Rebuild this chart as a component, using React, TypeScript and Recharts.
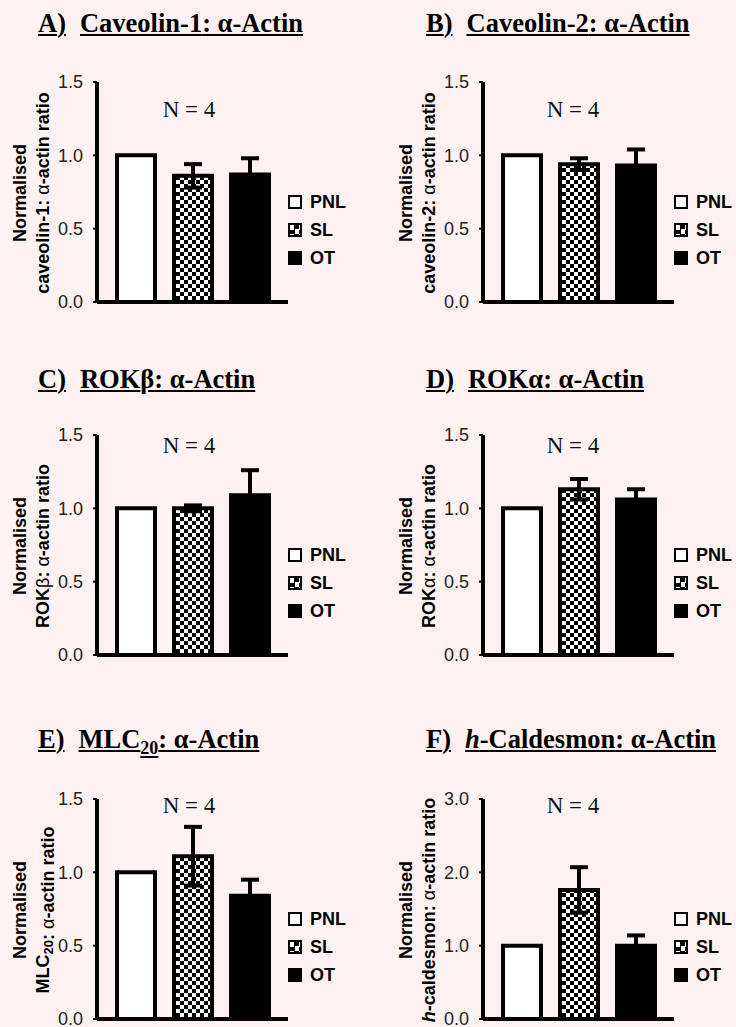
import React from 'react';
import { BarChart, Bar, XAxis, YAxis, ErrorBar, Legend } from 'recharts';

const BG = '#fdf1f1';
const SANS = '"Liberation Sans", Arial, Helvetica, sans-serif';
const SERIF = '"Liberation Serif", "Times New Roman", Times, serif';

// groups shown in every panel
const SERIES = ['PNL', 'SL', 'OT'];
const PANEL_LETTERS = ['A', 'B', 'C', 'D', 'E', 'F'];

// normalised protein : alpha-actin ratios, mean and SEM (N = 4)
const PNL_MEAN = [1, 1, 1, 1, 1, 1];
const SL_MEAN = [0.86, 0.94, 1.0, 1.13, 1.11, 1.76];
const SL_SEM = [0.08, 0.04, 0.02, 0.07, 0.2, 0.31];
const OT_MEAN = [0.87, 0.93, 1.09, 1.06, 0.84, 1.0];
const OT_SEM = [0.11, 0.11, 0.17, 0.07, 0.11, 0.14];

const Y_TICKS = [
  [0, 0.5, 1, 1.5],
  [0, 0.5, 1, 1.5],
  [0, 0.5, 1, 1.5],
  [0, 0.5, 1, 1.5],
  [0, 0.5, 1, 1.5],
  [0, 1, 2, 3],
];
const N_LABEL = 'N = 4';

type Seg = { t: string; sub?: boolean; it?: boolean; greek?: boolean };

const TITLE_NAMES: Seg[][] = [
  [{ t: 'Caveolin-1' }],
  [{ t: 'Caveolin-2' }],
  [{ t: 'ROK' }, { t: 'β', greek: true }],
  [{ t: 'ROK' }, { t: 'α', greek: true }],
  [{ t: 'MLC' }, { t: '20', sub: true }],
  [{ t: 'h', it: true }, { t: '-Caldesmon' }],
];

const AXIS_NAMES: Seg[][] = [
  [{ t: 'caveolin-1' }],
  [{ t: 'caveolin-2' }],
  [{ t: 'ROK' }, { t: 'β', greek: true }],
  [{ t: 'ROK' }, { t: 'α', greek: true }],
  [{ t: 'MLC' }, { t: '20', sub: true }],
  [{ t: 'h', it: true }, { t: '-caldesmon' }],
];

const CHART_LEFT = [0, 386];
const CHART_TOP = [0, 353, 717];
const TITLE_LEFT = [38, 426];
const TITLE_TOP = [10, 366, 726];
const N_CENTER = [189, 573];
const N_TOP = [98, 434, 794];

const checker = 'repeating-conic-gradient(#000 0 25%, #fff 0 50%) 0 0 / 9px 9px';
const LEGEND_FILL: Record<string, string> = { PNL: '#fff', SL: checker, OT: '#000' };

function LegendBox() {
  return (
    <div style={{ fontFamily: SANS, fontWeight: 700, fontSize: 18, color: '#000' }}>
      {SERIES.map((s) => (
        <div key={s} style={{ display: 'flex', alignItems: 'center', height: 28 }}>
          <div
            style={{
              width: 14,
              height: 14,
              boxSizing: 'border-box',
              border: '2px solid #000',
              background: LEGEND_FILL[s],
              marginRight: 8,
            }}
          />
          <span style={{ lineHeight: '18px' }}>{s}</span>
        </div>
      ))}
    </div>
  );
}

function Title({ i }: { i: number }) {
  const col = i % 2;
  const row = Math.floor(i / 2);
  const ul: React.CSSProperties = {
    textDecoration: 'underline',
    textDecorationThickness: '2px',
    textUnderlineOffset: '2px',
  };
  return (
    <div
      style={{
        position: 'absolute',
        left: TITLE_LEFT[col],
        top: TITLE_TOP[row],
        fontFamily: SERIF,
        fontWeight: 700,
        fontSize: 26.5,
        lineHeight: '26.5px',
        whiteSpace: 'nowrap',
        color: '#000',
      }}
    >
      <span style={ul}>{PANEL_LETTERS[i]})</span>
      <span style={{ marginLeft: 14 }}>
        {TITLE_NAMES[i].map((s, k) => (
          <span
            key={k}
            style={{
              ...ul,
              fontStyle: s.it ? 'italic' : 'normal',
              fontSize: s.sub ? 18 : 26.5,
              verticalAlign: s.sub ? '-6px' : 'baseline',
            }}
          >
            {s.t}
          </span>
        ))}
        <span style={ul}>: α-Actin</span>
      </span>
    </div>
  );
}

function segTspans(segs: Seg[]) {
  const out: React.ReactNode[] = [];
  segs.forEach((s, k) => {
    if (s.sub) {
      out.push(
        <tspan key={k} fontSize={13} dy={5}>
          {s.t}
        </tspan>
      );
      out.push(
        <tspan key={k + 'r'} dy={-5}>
          {''}
        </tspan>
      );
    } else {
      out.push(
        <tspan
          key={k}
          fontStyle={s.it ? 'italic' : 'normal'}
          fontWeight={s.greek ? 400 : 700}
        >
          {s.t}
        </tspan>
      );
    }
  });
  return out;
}

function makeYLabel(i: number) {
  return (props: any) => {
    const vb = props && props.viewBox ? props.viewBox : {};
    const cy = (vb.y ?? 82) + (vb.height ?? 220) / 2 + 1;
    const x1 = 20;
    const x2 = 43;
    const common = {
      fontFamily: SANS,
      fontSize: 18,
      fontWeight: 700,
      fill: '#000',
      textAnchor: 'middle' as const,
      dominantBaseline: 'central' as const,
    };
    return (
      <g>
        <text x={x1} y={cy} transform={`rotate(-90 ${x1} ${cy})`} {...common}>
          Normalised
        </text>
        <text x={x2} y={cy} transform={`rotate(-90 ${x2} ${cy})`} {...common}>
          {segTspans(AXIS_NAMES[i])}
          <tspan>: </tspan>
          <tspan fontWeight={400}>α</tspan>
          <tspan>-actin ratio</tspan>
        </text>
      </g>
    );
  };
}

function Panel({ i }: { i: number }) {
  const col = i % 2;
  const row = Math.floor(i / 2);
  const ticks = Y_TICKS[i];
  const pid = `checker-${i}`;
  const data = [
    {
      name: PANEL_LETTERS[i],
      PNL: PNL_MEAN[i],
      SL: SL_MEAN[i],
      OT: OT_MEAN[i],
      SLerr: SL_SEM[i],
      OTerr: OT_SEM[i],
    },
  ];

  return (
    <div style={{ position: 'absolute', left: CHART_LEFT[col], top: CHART_TOP[row] }}>
      <BarChart
        width={368}
        height={332}
        data={data}
        margin={{ top: 82, right: 80, bottom: 28, left: 0 }}
        barSize={38}
        barGap={19}
      >
        <defs>
          <pattern id={pid} patternUnits="userSpaceOnUse" width={8} height={8}>
            <rect width={8} height={8} fill="#fff" />
            <rect width={4} height={4} fill="#000" />
            <rect x={4} y={4} width={4} height={4} fill="#000" />
          </pattern>
        </defs>
        <XAxis
          dataKey="name"
          tick={false}
          tickLine={false}
          height={2}
          axisLine={{ stroke: '#000', strokeWidth: 4 }}
        />
        <YAxis
          width={97}
          domain={[0, ticks[ticks.length - 1]]}
          ticks={ticks}
          interval={0}
          allowDataOverflow
          tickFormatter={(v: number) => v.toFixed(1)}
          axisLine={{ stroke: '#000', strokeWidth: 4 }}
          tickLine={{ stroke: '#000', strokeWidth: 2 }}
          tickSize={4}
          tickMargin={10}
          tick={{ fill: '#222', fontSize: 18, fontFamily: SANS }}
          label={makeYLabel(i)}
        />
        <Bar dataKey="PNL" fill="#fff" stroke="#000" strokeWidth={4} isAnimationActive={false} />
        <Bar dataKey="SL" fill={`url(#${pid})`} stroke="#000" strokeWidth={4} isAnimationActive={false}>
          <ErrorBar dataKey="SLerr" width={9} stroke="#000" strokeWidth={4} direction="y" />
        </Bar>
        <Bar dataKey="OT" fill="#000" stroke="#000" strokeWidth={4} isAnimationActive={false}>
          <ErrorBar dataKey="OTerr" width={9} stroke="#000" strokeWidth={4} direction="y" />
        </Bar>
        <Legend
          layout="horizontal"
          verticalAlign="middle"
          align="center"
          content={() => <LegendBox />}
          wrapperStyle={{ left: 288, top: 188, width: 'auto', height: 'auto' }}
        />
      </BarChart>
      <div
        style={{
          position: 'absolute',
          left: N_CENTER[col] - CHART_LEFT[col] - 50,
          top: N_TOP[row] - CHART_TOP[row],
          width: 100,
          textAlign: 'center',
          fontFamily: SERIF,
          fontSize: 23,
          lineHeight: '23px',
          color: '#111',
        }}
      >
        {N_LABEL}
      </div>
    </div>
  );
}

export default function App() {
  return (
    <div
      style={{
        position: 'absolute',
        left: 0,
        top: 0,
        width: 736,
        height: 1027,
        overflow: 'hidden',
        background: BG,
      }}
    >
      {PANEL_LETTERS.map((_, i) => (
        <React.Fragment key={i}>
          <Title i={i} />
          <Panel i={i} />
        </React.Fragment>
      ))}
    </div>
  );
}
